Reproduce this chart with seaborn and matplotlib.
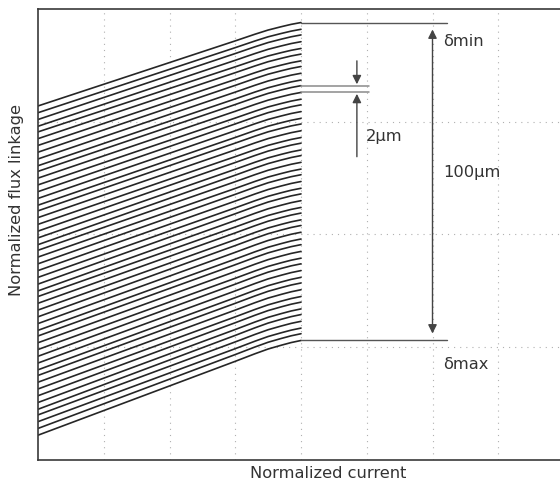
import numpy as np
import pandas as pd
import matplotlib
matplotlib.use("Agg")
import matplotlib.pyplot as plt
import seaborn as sns

# Flux-linkage curves for air gaps from delta_min to delta_max in 2 um steps
FLUX_START = [3.14, 3.08, 3.02, 2.96, 2.91, 2.85, 2.79, 2.73, 2.67, 2.61,
              2.56, 2.50, 2.44, 2.38, 2.32, 2.26, 2.21, 2.15, 2.09, 2.03,
              1.97, 1.91, 1.86, 1.80, 1.74, 1.68, 1.62, 1.56, 1.50, 1.45,
              1.39, 1.33, 1.27, 1.21, 1.15, 1.10, 1.04, 0.98, 0.92, 0.86,
              0.80, 0.75, 0.69, 0.63, 0.57, 0.51, 0.45, 0.40, 0.34, 0.28,
              0.22]
FLUX_END = [3.88, 3.82, 3.77, 3.71, 3.65, 3.60, 3.54, 3.49, 3.43, 3.37,
            3.32, 3.26, 3.20, 3.15, 3.09, 3.03, 2.98, 2.92, 2.86, 2.81,
            2.75, 2.70, 2.64, 2.58, 2.53, 2.47, 2.41, 2.36, 2.30, 2.24,
            2.19, 2.13, 2.08, 2.02, 1.96, 1.91, 1.85, 1.79, 1.74, 1.68,
            1.62, 1.57, 1.51, 1.45, 1.40, 1.34, 1.29, 1.23, 1.17, 1.12,
            1.06]
# Normalized current samples and the share of each curve's rise reached there
CURRENT = [0.0, 1.0, 2.0, 3.0, 3.3, 3.5, 3.7, 3.85, 4.0]
RISE_SHARE = [0.0, 0.26, 0.52, 0.78, 0.86, 0.91, 0.95, 0.978, 1.0]

rows = []
for k, (s, e) in enumerate(zip(FLUX_START, FLUX_END)):
    for x, f in zip(CURRENT, RISE_SHARE):
        rows.append({"curve": k, "current": x, "flux": s + (e - s) * f})
df = pd.DataFrame(rows)

sns.set_style("white")
plt.rcParams["font.family"] = ["DejaVu Sans"]

W, H = 560, 483
fig = plt.figure(figsize=(W / 100, H / 100), dpi=100)
ax = fig.add_axes([38 / W, 23 / H, 526 / W, 451 / H])

sns.lineplot(data=df, x="current", y="flux", units="curve", estimator=None,
             sort=False, color="#262626", linewidth=1.2, ax=ax, legend=False)

ax.set_xlim(0, 8)
ax.set_ylim(0, 4)
ax.set_xticks(np.arange(1, 8))
ax.set_yticks([1, 2, 3])
ax.tick_params(length=0, labelbottom=False, labelleft=False)
ax.grid(True, color="#b0b0b0", linestyle=(0, (1, 4.5)), linewidth=0.8)
ax.set_axisbelow(True)
ax.set_xlabel("")
ax.set_ylabel("")
for side, sp in ax.spines.items():
    sp.set_color("#3a3a3a")
    sp.set_linewidth(1.2)

# Reference levels for delta_min and delta_max
for y in (FLUX_END[0], FLUX_END[-1]):
    ax.plot([4.0, 6.22], [y, y], color="#555555", linewidth=1.0)

# Two neighbouring curves, one 2 um step apart
for y in (FLUX_END[10], FLUX_END[11]):
    ax.plot([4.0, 5.03], [y, y], color="#8a8a8a", linewidth=1.1)

arrow_kw = dict(color="#444444", linewidth=1.0, mutation_scale=13)
ax.annotate("", xy=(6.0, FLUX_END[0]), xytext=(6.0, FLUX_END[-1]),
            arrowprops=dict(arrowstyle="<|-|>", shrinkA=5, shrinkB=5, **arrow_kw))
ax.annotate("", xy=(4.85, FLUX_END[10]), xytext=(4.85, 3.54),
            arrowprops=dict(arrowstyle="-|>", shrinkA=0, shrinkB=1, **arrow_kw))
ax.annotate("", xy=(4.85, FLUX_END[11]), xytext=(4.85, 2.69),
            arrowprops=dict(arrowstyle="-|>", shrinkA=0, shrinkB=1, **arrow_kw))

tkw = dict(fontsize=11.7, color="#333333", ha="left", va="baseline")
ax.text(6.155, 3.672, "δmin", **tkw)
ax.text(4.99, 2.829, "2µm", **tkw)
ax.text(6.164, 2.513, "100µm", **tkw)
ax.text(6.155, 0.804, "δmax", **tkw)

fig.text(250 / W, 5.5 / H, "Normalized current", fontsize=11.7,
         color="#333333", ha="left", va="baseline")
fig.text(17 / W, 1 - 200 / H, "Normalized flux linkage", fontsize=11.7,
         color="#333333", ha="center", va="center", rotation=90)

fig.savefig("out.png", dpi=100)
